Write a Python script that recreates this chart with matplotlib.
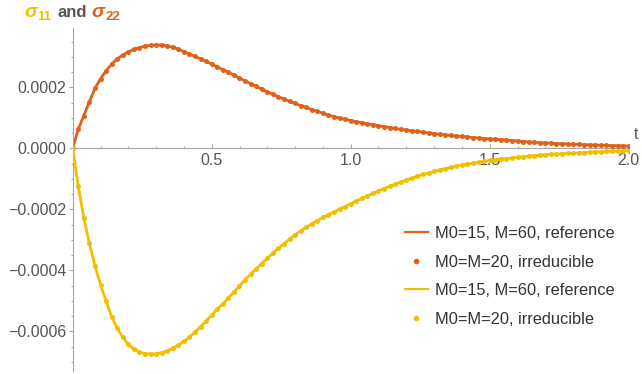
import matplotlib
matplotlib.use("Agg")
import matplotlib.pyplot as plt
import numpy as np
from matplotlib.ticker import FuncFormatter, MultipleLocator
from matplotlib.lines import Line2D

plt.rcParams['font.family'] = ['Liberation Sans', 'DejaVu Sans']

# time grid, step 0.02
t = np.linspace(0.0, 2.0, 101)

# sigma_22 in units of 1e-4
sigma22 = np.array([
    0.00, 0.62, 1.07, 1.53, 1.96, 2.28, 2.54, 2.76, 2.93, 3.06,
    3.16, 3.24, 3.30, 3.35, 3.38, 3.39, 3.38, 3.36, 3.31, 3.25,
    3.17, 3.09, 3.01, 2.93, 2.85, 2.76, 2.67, 2.58, 2.49, 2.40,
    2.30, 2.21, 2.12, 2.03, 1.94, 1.85, 1.77, 1.69, 1.61, 1.54,
    1.47, 1.40, 1.34, 1.27, 1.21, 1.15, 1.09, 1.04, 0.99, 0.95,
    0.91, 0.87, 0.84, 0.80, 0.77, 0.74, 0.71, 0.68, 0.65, 0.62,
    0.60, 0.57, 0.55, 0.53, 0.50, 0.48, 0.46, 0.44, 0.42, 0.40,
    0.39, 0.37, 0.35, 0.34, 0.32, 0.31, 0.29, 0.28, 0.27, 0.25,
    0.24, 0.22, 0.21, 0.195, 0.185, 0.175, 0.165, 0.155, 0.148, 0.14,
    0.132, 0.125, 0.118, 0.11, 0.104, 0.098, 0.092, 0.087, 0.082, 0.078,
    0.075,
])

# sigma_11 in units of 1e-4
sigma11 = np.array([
    0.00, -1.25, -2.28, -3.12, -3.85, -4.47, -5.00, -5.52, -5.90, -6.20,
    -6.43, -6.58, -6.68, -6.73, -6.75, -6.74, -6.70, -6.64, -6.56, -6.46,
    -6.33, -6.19, -6.03, -5.85, -5.66, -5.47, -5.28, -5.10, -4.91, -4.71,
    -4.51, -4.31, -4.13, -3.95, -3.78, -3.61, -3.44, -3.28, -3.13, -2.98,
    -2.84, -2.71, -2.59, -2.48, -2.37, -2.27, -2.18, -2.09, -2.00, -1.91,
    -1.82, -1.73, -1.64, -1.56, -1.48, -1.40, -1.32, -1.25, -1.18, -1.11,
    -1.04, -0.98, -0.92, -0.86, -0.81, -0.76, -0.71, -0.67, -0.63, -0.59,
    -0.55, -0.52, -0.49, -0.46, -0.43, -0.40, -0.38, -0.36, -0.34, -0.32,
    -0.30, -0.28, -0.26, -0.245, -0.23, -0.215, -0.20, -0.19, -0.18, -0.17,
    -0.16, -0.15, -0.14, -0.13, -0.122, -0.114, -0.106, -0.099, -0.092, -0.085,
    -0.078,
])

labels = ["M0=15, M=60, reference", "M0=M=20, irreducible",
          "M0=15, M=60, reference", "M0=M=20, irreducible"]

orange = '#E0621A'
yellow = '#F0C000'
axis_gray = '#a6a6a6'
text_gray = '#555555'

W, H = 642, 374
fig = plt.figure(figsize=(W / 100, H / 100), dpi=100)
ax = fig.add_axes([72.7 / W, 3.1 / H, 556 / W, 343.1 / H])

ax.plot(t, sigma22 * 1e-4, color=orange, lw=2.0, zorder=2)
ax.plot(t, sigma22 * 1e-4, ls='none', marker='o', ms=3.6, mew=0, color=orange, zorder=3)
ax.plot(t, sigma11 * 1e-4, color=yellow, lw=2.0, zorder=4)
ax.plot(t, sigma11 * 1e-4, ls='none', marker='o', ms=3.6, mew=0, color=yellow, zorder=5)

ax.set_xlim(0, 2.0)
ax.set_ylim(-0.00073, 0.000395)

for side in ['top', 'right']:
    ax.spines[side].set_visible(False)
for side in ['left', 'bottom']:
    ax.spines[side].set_position(('data', 0))
    ax.spines[side].set_color(axis_gray)
    ax.spines[side].set_linewidth(0.8)

ax.set_xticks([0.5, 1.0, 1.5, 2.0])
ax.xaxis.set_minor_locator(MultipleLocator(0.1))
ax.yaxis.set_major_locator(MultipleLocator(0.0002))
ax.yaxis.set_minor_locator(MultipleLocator(0.00005))
ax.yaxis.set_major_formatter(FuncFormatter(lambda v, p: ('%.4f' % v).replace('-', '\u2212') if abs(v) > 1e-12 else '0.0000'))
ax.xaxis.set_major_formatter(FuncFormatter(lambda v, p: '%.1f' % v))

ax.tick_params(axis='x', which='both', direction='in', color=axis_gray, width=0.8,
               labelcolor=text_gray, labelsize=11.5, pad=3.4)
ax.tick_params(axis='x', which='major', length=3.0)
ax.tick_params(axis='x', which='minor', length=1.8)
ax.tick_params(axis='y', which='both', direction='out', color=axis_gray, width=0.8,
               labelcolor=text_gray, labelsize=11.5, pad=1.5)
ax.tick_params(axis='y', which='major', length=3.0)
ax.tick_params(axis='y', which='minor', length=1.8)

# axis name at the end of the horizontal axis
fig.text(634 / W, 1 - 139 / H, 't', color=text_gray, fontsize=11.5, va='baseline')

# coloured title: sigma_11 and sigma_22
def ptext(x, y, s, **kw):
    fig.text(x / W, 1 - y / H, s, va='baseline', fontweight='bold', **kw)

ptext(24, 17, '\u03c3', color=yellow, fontsize=14, style='italic')
ptext(37, 20.5, '11', color=yellow, fontsize=9.5)
ptext(57, 17, 'and', color=text_gray, fontsize=12)
ptext(91, 17, '\u03c3', color=orange, fontsize=14, style='italic')
ptext(105, 20.5, '22', color=orange, fontsize=9.5)

handles = [
    Line2D([], [], color=orange, lw=1.6),
    Line2D([], [], ls='none', marker='o', ms=4, mew=0, color=orange),
    Line2D([], [], color=yellow, lw=1.6),
    Line2D([], [], ls='none', marker='o', ms=4, mew=0, color=yellow),
]
fig.legend(handles, labels, loc='upper left', bbox_to_anchor=(405 / W, 1 - 226 / H),
           frameon=False, fontsize=11.8, handlelength=1.4, handletextpad=0.45,
           labelspacing=0.83, borderpad=0, borderaxespad=0, labelcolor='#333333')

fig.savefig('out.png', dpi=100)
